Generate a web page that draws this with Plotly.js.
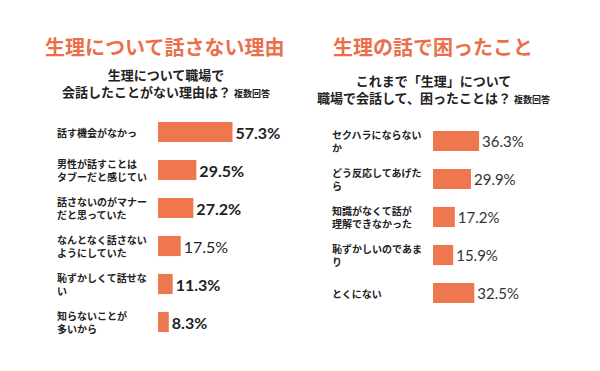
<!DOCTYPE html>
<html><head><meta charset="utf-8">
<script src="https://cdn.plot.ly/plotly-3.0.1.min.js"></script>
<style>html,body{margin:0;padding:0;background:#fff}#c{width:600px;height:371px}</style>
</head><body><div id="c"></div>
<script>
// Left chart: 生理について話さない理由
const leftCategories = [
  "話す機会がなかっ",
  "男性が話すことは<br>タブーだと感じてい",
  "話さないのがマナー<br>だと思っていた",
  "なんとなく話さない<br>ようにしていた",
  "恥ずかしくて話せな<br>い",
  "知らないことが<br>多いから"
];
const leftValues = [57.3, 29.5, 27.2, 17.5, 11.3, 8.3];

// Right chart: 生理の話で困ったこと
const rightCategories = [
  "セクハラにならない<br>か",
  "どう反応してあげた<br>ら",
  "知識がなくて話が<br>理解できなかった",
  "恥ずかしいのであま<br>り",
  "とくにない"
];
const rightValues = [36.3, 29.9, 17.2, 15.9, 32.5];

const leftTitle = "生理について話さない理由";
const leftSub1 = "生理について職場で";
const leftSub2 = "会話したことがない理由は？";
const rightTitle = "生理の話で困ったこと";
const rightSub1 = "これまで「生理」について";
const rightSub2 = "職場で会話して、困ったことは？";
const multiNote = "複数回答";

const BAR = "#EE7750";
const ORANGE = "#EC6F4D";
const JP = "'Noto Sans CJK JP', 'Noto Sans', sans-serif";
const NUM = "Lato, 'Noto Sans', sans-serif";

const leftWeights = [700, 700, 700, 400, 700, 700];

const traces = [
  {
    type: "bar", orientation: "h", x: leftValues, y: leftCategories,
    xaxis: "x", yaxis: "y", width: 0.53,
    marker: {color: BAR},
    text: leftValues.map(v => v.toFixed(1) + "%"),
    textposition: "outside", cliponaxis: false, constraintext: "none",
    textfont: {family: NUM, size: 16, color: "#222", weight: leftWeights},
    hoverinfo: "skip"
  },
  {
    type: "bar", orientation: "h", x: rightValues, y: rightCategories,
    xaxis: "x2", yaxis: "y2", width: 0.53,
    marker: {color: BAR},
    text: rightValues.map(v => v.toFixed(1) + "%"),
    textposition: "outside", cliponaxis: false, constraintext: "none",
    textfont: {family: NUM, size: 15, color: "#333", weight: 400},
    hoverinfo: "skip"
  }
];

const annotations = [];
leftCategories.forEach(c => annotations.push({
  xref: "paper", yref: "y", x: 55/600, y: c, text: c, showarrow: false,
  xanchor: "left", yanchor: "middle", align: "left",
  font: {family: JP, size: 10, color: "#222", weight: 700}
}));
rightCategories.forEach(c => annotations.push({
  xref: "paper", yref: "y2", x: 330/600, y: c, text: c, showarrow: false,
  xanchor: "left", yanchor: "middle", align: "left",
  font: {family: JP, size: 10, color: "#222", weight: 700}
}));
function txt(x, y, text, size, color, weight) {
  annotations.push({xref: "paper", yref: "paper", x: x/600, y: 1 - y/371, text: text,
    showarrow: false, xanchor: "center", yanchor: "middle", align: "center",
    font: {family: JP, size: size, color: color, weight: weight}});
}
const note = " <span style='font-size:9px'>" + multiNote + "</span>";
txt(164, 47, leftTitle, 20, ORANGE, 700);
txt(166, 83, leftSub1 + "<br>" + leftSub2 + note, 13, "#222", 700);
txt(433, 47, rightTitle, 20, ORANGE, 700);
txt(433, 89, rightSub1 + "<br>" + rightSub2 + note, 13, "#222", 700);

const axX = {range: [0, 100], showgrid: false, zeroline: false, showticklabels: false, showline: false, fixedrange: true};
const axY = {type: "category", showgrid: false, zeroline: false, showticklabels: false, showline: false, fixedrange: true, domain: [0, 1]};

const layout = {
  width: 600, height: 371,
  margin: {l: 0, r: 0, t: 0, b: 0},
  paper_bgcolor: "#fff", plot_bgcolor: "rgba(0,0,0,0)",
  showlegend: false,
  xaxis: Object.assign({}, axX, {domain: [158/600, 288/600], anchor: "y"}),
  yaxis: Object.assign({}, axY, {range: [(371-132)/38, -132/38], anchor: "x"}),
  xaxis2: Object.assign({}, axX, {domain: [433/600, 560/600], anchor: "y2"}),
  yaxis2: Object.assign({}, axY, {range: [(371-141)/38, -141/38], anchor: "x2"}),
  annotations: annotations,
  font: {family: JP}
};
Plotly.newPlot("c", traces, layout, {displayModeBar: false, staticPlot: true});
</script></body></html>
